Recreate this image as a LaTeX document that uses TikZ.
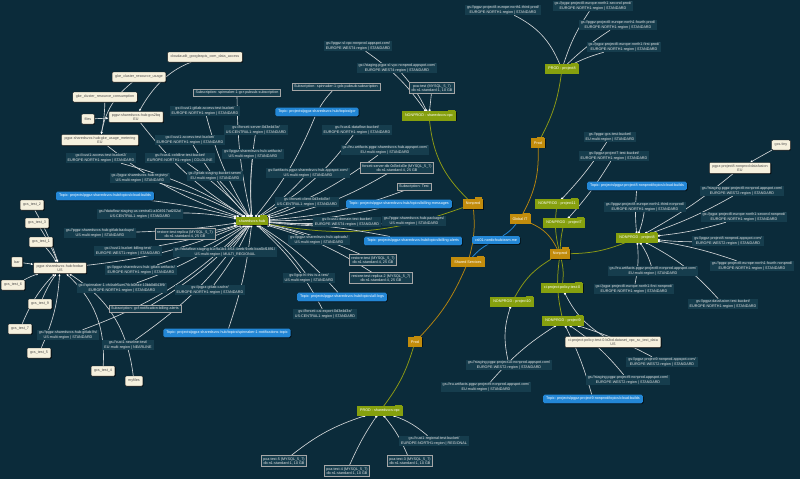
\documentclass[tikz,border=0pt]{standalone}
\usepackage{fontspec}
\setmainfont{Liberation Sans}
\usetikzlibrary{arrows.meta,shadows}
\definecolor{bgc}{HTML}{0B2B3A}
\definecolor{lblc}{HTML}{163D4D}
\definecolor{topicc}{HTML}{2387D6}
\definecolor{projc}{HTML}{86A00E}
\definecolor{foldc}{HTML}{C28C0C}
\definecolor{dsc}{HTML}{F6F1DE}
\definecolor{edgec}{HTML}{D0D4D6}
\definecolor{olivl}{HTML}{8E9C14}
\definecolor{goldl}{HTML}{B8860E}
\pgfdeclarelayer{bgl}
\pgfdeclarelayer{edges}
\pgfsetlayers{bgl,edges,main}
\newcommand\tinyf{\fontsize{3.7}{4.2}\selectfont}
\newcommand\enS{EUROPE-NORTH1-region | STANDARD}
\newcommand\usS{US-multi-region | STANDARD}
\newcommand\ucS{US-CENTRAL1-region | STANDARD}
\newcommand\ewS{EUROPE-WEST2-region | STANDARD}
\newcommand\mysql{(MYSQL\_5\_7)}
\tikzset{
  lbl/.style={fill=lblc,text=white!90!black,font=\tinyf,align=center,inner xsep=2pt,inner ysep=1.2pt},
  sqlbox/.style={lbl,draw=gray!70,line width=0.5pt,inner ysep=1.6pt},
  topic/.style={fill=topicc,text=white,font=\tinyf,rounded corners=1.5pt,inner xsep=3pt,inner ysep=2.6pt,
    drop shadow={shadow xshift=0.7pt,shadow yshift=-0.7pt,fill=black,opacity=0.7}},
  proj/.style={fill=projc,text=white,font=\tinyf,inner xsep=3pt,inner ysep=2.8pt,
    drop shadow={shadow xshift=0.6pt,shadow yshift=-0.6pt,fill=black,opacity=0.6}},
  fold/.style={fill=foldc,text=white,font=\tinyf,inner xsep=3pt,inner ysep=3.2pt,
    drop shadow={shadow xshift=0.6pt,shadow yshift=-0.6pt,fill=black,opacity=0.6}},
  ds/.style={fill=dsc,draw=black!85,text=black!70,font=\tinyf,align=center,rounded corners=1pt,
    inner xsep=3pt,inner ysep=2pt,minimum height=10pt,
    drop shadow={shadow xshift=0.7pt,shadow yshift=-0.7pt,fill=black,opacity=0.8}},
  edge/.style={draw=edgec,line width=0.65pt},
  hubedge/.style={edge,-{Square[length=1.8pt,width=1.8pt,color=white]}},
  tabl/.style={edge,-{Latex[length=2.4pt,width=2.2pt,color=white]}},
  oedge/.style={draw=olivl,line width=0.75pt},
  gedge/.style={draw=goldl,line width=0.75pt},
  bedge/.style={draw=topicc,line width=0.8pt},
}
\begin{document}
\begin{tikzpicture}[x=1pt,y=-1pt]
\begin{pgfonlayer}{bgl}
\fill[bgc] (0,0) rectangle (800,479);
\end{pgfonlayer}
\useasboundingbox (0,0) rectangle (800,479);

% ---------- folders and projects ----------
\node[proj] (hub) at (252,221) {sharedsvcs-hub};
\node[proj] (nvpc) at (429,116) {NONPROD - sharedsvcs-vpc};
\node[proj] (pp8) at (562,69) {PROD - project8};
\node[proj] (np11) at (557,204) {NONPROD - project11};
\node[proj] (np7) at (564,223) {NONPROD - project7};
\node[proj] (np8) at (637,238) {NONPROD - project8};
\node[proj] (cipol) at (562,288) {ci-project-policy-test-0};
\node[proj] (np10) at (512,302) {NONPROD - project10};
\node[proj] (np9) at (563,321) {NONPROD - project9};
\node[proj] (pvpc) at (380,411) {PROD - sharedsvcs-vpc};

\node[fold] (global) at (520,219) {Global IT};
\node[fold] (shared) at (468,262) {Shared Services};
\node[fold] (nprodL) at (473,204) {Nonprod};
\node[fold] (nprodR) at (560,254) {Nonprod};
\node[fold] (prodU) at (538,143) {Prod};
\node[fold] (prodL) at (415,342) {Prod};

\foreach \n in {hub,nvpc,pp8,np11,np7,np8,cipol,np10,np9,pvpc}
  \fill[projc] ([xshift=-1pt]\n.north east) rectangle ++(-7pt,1.6pt);
\foreach \n in {global,shared,nprodL,nprodR,prodU,prodL}
  \fill[foldc] ([xshift=-1pt]\n.north east) rectangle ++(-7pt,1.6pt);

\node[topic] (email) at (496,240) {csl01.nordicfoulsteam.me};

% ---------- datasets and tables ----------
\node[ds] (cloudaudit) at (205,57) {cloudaudit\_googleapis\_com\_data\_access};
\node[ds] (gkeusage) at (139,77) {gke\_cluster\_resource\_usage};
\node[ds] (gkecons) at (105,97) {gke\_cluster\_resource\_consumption};
\node[ds] (files) at (88,119) {files};
\node[ds] (gcstobq) at (136,117) {pgpz-sharedsvcs-hub:gcs2bq\\EU};
\node[ds] (gkemeter) at (100,140) {pgpz-sharedsvcs-hub:gke\_usage\_metering\\EU};
\node[ds] (foobar) at (60,268) {pgpz-sharedsvcs-hub:foobar\\US};
\node[ds] (bar) at (17,262) {bar};
\node[ds] (gt2) at (32,205) {gcs\_test\_2};
\node[ds] (gt3) at (37,223) {gcs\_test\_3};
\node[ds] (gt1) at (41,242) {gcs\_test\_1};
\node[ds] (gt6) at (13,285) {gcs\_test\_6};
\node[ds] (gt9) at (40,304) {gcs\_test\_9};
\node[ds] (gt7) at (20,329) {gcs\_test\_7};
\node[ds] (gt5) at (39,353) {gcs\_test\_5};
\node[ds] (gt4) at (103,371) {gcs\_test\_4};
\node[ds] (myfiles) at (134,381) {myfiles};
\node[ds] (dfusion) at (740,168) {pgpz-project8-nonprod:datafusion\\EU};
\node[ds] (gcstiny) at (781,145) {gcs.tiny};
\node[ds] (cids) at (613,342) {ci-project-policy-test-0-b0bd.dataset\_vpc\_sc\_test\_data\\US};

% ---------- topics ----------
\node[topic] (tgcr) at (317,112) {Topic: projects/pgpz-sharedsvcs-hub/topics/gcr};
\node[topic] (tcb) at (105,196) {Topic: projects/pgpz-sharedsvcs-hub/topics/cloud-builds};
\node[topic] (tbm) at (399,204) {Topic: projects/pgpz-sharedsvcs-hub/topics/billing-messages};
\node[topic] (tba) at (413,241) {Topic: projects/pgpz-sharedsvcs-hub/topics/billing-alerts};
\node[topic] (tal) at (342,297) {Topic: projects/pgpz-sharedsvcs-hub/topics/all-logs};
\node[topic] (tsn) at (227,333) {Topic: projects/pgpz-sharedsvcs-hub/topics/spinnaker-1-notifications-topic};
\node[topic] (tp8) at (637,186) {Topic: projects/pgpz-project8-nonprod/topics/cloud-builds};
\node[topic] (tp9) at (593,399) {Topic: projects/pgpz-project9-nonprod/topics/cloud-builds};

% ---------- subscriptions ----------
\node[sqlbox] (sgcr) at (237,93) {Subscription: spinnaker-1-gcr-pubsub-subscription};
\node[sqlbox] (sgcb) at (336,87) {Subscription: spinnaker-1-gcb-pubsub-subscription};
\node[sqlbox] (stest) at (414,187) {Subscription: Test};
\node[sqlbox] (sgcf) at (145,309) {Subscription: gcf-notification-billing-alerts};

% ---------- Cloud SQL instances ----------
\node[sqlbox] (pxa) at (432,88) {pxa-test \mysql\\db-n1-standard-1, 10 GB};
\node[sqlbox] (fsdb) at (397,168) {forseti-server-db-0d3e4d3e \mysql\\db-n1-standard-4, 25 GB};
\node[sqlbox] (rt) at (373,260) {restore-test \mysql\\db-n1-standard-4, 25 GB};
\node[sqlbox] (rtr2) at (381,278) {restore-test-replica-2 \mysql\\db-n1-standard-4, 25 GB};
\node[sqlbox] (rtr) at (185,234) {restore-test-replica \mysql\\db-n1-standard-4, 25 GB};
\node[sqlbox] (pxa5) at (284,461) {pxa-test-5 \mysql\\db-n1-standard-1, 10 GB};
\node[sqlbox] (pxa4) at (347,471) {pxa-test-4 \mysql\\db-n1-standard-1, 10 GB};
\node[sqlbox] (pxa3) at (410,461) {pxa-test-3 \mysql\\db-n1-standard-1, 10 GB};

% ---------- buckets of sharedsvcs-hub ----------
\node[lbl] (b1) at (205,111) {gs://cust1-gitlab-access-test-bucket/\\\enS};
\node[lbl] (b2) at (190,140) {gs://cust1-access-test-bucket/\\\enS};
\node[lbl] (b3) at (101,158) {gs://cust1-access-test-bucket2/\\\enS};
\node[lbl] (b4) at (180,158) {gs://cust1-coldline-test-bucket/\\EUROPE-NORTH1-region | COLDLINE};
\node[lbl] (b5) at (140,178) {gs://pgpz-sharedsvcs-hub-registry/\\\usS};
\node[lbl] (b6) at (256,130) {gs://forseti-server-0d3e4d3e/\\\ucS};
\node[lbl] (b7) at (253,154) {gs://pgpz-sharedsvcs-hub-artifacts/\\\usS};
\node[lbl] (b8) at (357,130) {gs://cust1-dataflow-bucket/\\\enS};
\node[lbl] (b9) at (385,150) {gs://eu.artifacts.pgpz-sharedsvcs-hub.appspot.com/\\EU-multi-region | STANDARD};
\node[lbl] (b12) at (308,173) {gs://artifacts.pgpz-sharedsvcs-hub.appspot.com/\\\usS};
\node[lbl] (b13) at (307,202) {gs://forseti-client-0d3e4d3e/\\\ucS};
\node[lbl] (b14) at (414,221) {gs://pgpz-sharedsvcs-hub-packages/\\\usS};
\node[lbl] (b15) at (347,222) {gs://cust1-domain-test-bucket/\\EUROPE-WEST4-region | STANDARD};
\node[lbl] (b16) at (319,240) {gs://pgpz-sharedsvcs-hub-uploads/\\\usS};
\node[lbl] (b17) at (309,278) {gs://gcp-hl-this-is-a-test/\\\usS};
\node[lbl] (b18) at (325,314) {gs://forseti-cai-export-0d3e4d3e/\\\ucS};
\node[lbl] (b19) at (68,335) {gs://pgpz-sharedsvcs-hub-gitlab-lfs/\\\usS};
\node[lbl] (b20) at (128,345) {gs://cust1-nearline-test/\\EU-multi-region | NEARLINE};
\node[lbl] (b21) at (210,290) {gs://pgpz-gitlab-cache/\\\enS};
\node[lbl] (b22) at (225,252) {gs://dataflow-staging-b1c9a1b4-4f64-4eeb-9ceb-bca6bf1891/\\US-multi-region | MULTI\_REGIONAL};
\node[lbl] (b23) at (122,288) {gs://spinnaker-1-vh4sdr5umi7tk-b0ffae-10bb0d043f9/\\\enS};
\node[lbl] (b24) at (141,270) {gs://pgpz-sharedsvcs-hub-gitlab-artifacts/\\\enS};
\node[lbl] (b25) at (128,251) {gs://cust1-bucket-billing-test/\\EUROPE-WEST1-region | STANDARD};
\node[lbl] (b26) at (100,233) {gs://pgpz-sharedsvcs-hub-gitlab-backups/\\\usS};
\node[lbl] (b27) at (140,214) {gs://dataflow-staging-us-central1-a404917ad202a/\\\ucS};
\node[lbl] (b28) at (215,176) {gs://gitlab-staging-bucket-sener/\\EU-multi-region | STANDARD};

% ---------- buckets of the vpc projects ----------
\node[lbl] (v1) at (358,46) {gs://pgpz-sl-vpc-nonprod.appspot.com/\\EUROPE-WEST4-region | STANDARD};
\node[lbl] (v2) at (397,68) {gs://staging.pgpz-sl-vpc-nonprod.appspot.com/\\EUROPE-WEST4-region | STANDARD};
\node[lbl] (v3) at (434,441) {gs://cust1-regional-test-bucket/\\EUROPE-NORTH1-region | REGIONAL};

% ---------- buckets of project8 (prod) ----------
\node[lbl] (p1) at (503,10) {gs://pgpz-project8-europe-north1-third-prod/\\\enS};
\node[lbl] (p2) at (593,6) {gs://pgpz-project8-europe-north1-second-prod/\\\enS};
\node[lbl] (p3) at (618,25) {gs://pgpz-project8-europe-north1-fourth-prod/\\\enS};
\node[lbl] (p4) at (624,47) {gs://pgpz-project8-europe-north1-first-prod/\\\enS};

% ---------- buckets of the nonprod projects ----------
\node[lbl] (g11) at (610,137) {gs://pgpz-gcs-test-bucket/\\EU-multi-region | STANDARD};
\node[lbl] (g7) at (614,156) {gs://pgpz-project7-test-bucket/\\\enS};
\node[lbl] (q1) at (645,207) {gs://pgpz-project8-europe-north1-third-nonprod/\\\enS};
\node[lbl] (q2) at (742,191) {gs://staging.pgpz-project8-nonprod.appspot.com/\\\ewS};
\node[lbl] (q3) at (744,217) {gs://pgpz-project8-europe-north1-second-nonprod/\\\enS};
\node[lbl] (q4) at (728,241) {gs://pgpz-project8-nonprod.appspot.com/\\\ewS};
\node[lbl] (q5) at (752,266) {gs://pgpz-project8-europe-north1-fourth-nonprod/\\\enS};
\node[lbl] (q6) at (653,271) {gs://eu.artifacts.pgpz-project8-nonprod.appspot.com/\\EU-multi-region | STANDARD};
\node[lbl] (q7) at (634,289) {gs://pgpz-project8-europe-north1-first-nonprod/\\\enS};
\node[lbl] (q8) at (723,304) {gs://pgpz-datafusion-test-bucket/\\\enS};
\node[lbl] (r1) at (662,362) {gs://pgpz-project9-nonprod.appspot.com/\\\ewS};
\node[lbl] (r2) at (628,380) {gs://staging.pgpz-project9-nonprod.appspot.com/\\\ewS};
\node[lbl] (r3) at (486,387) {gs://eu.artifacts.pgpz-project9-nonprod.appspot.com/\\EU-multi-region | STANDARD};
\node[lbl] (r4) at (509,365) {gs://staging.pgpz-project10-nonprod.appspot.com/\\\ewS};

% ---------- connectors ----------
\begin{pgfonlayer}{edges}
% folder tree
\draw[gedge] (global) to[bend right=15] (prodU);
\draw[gedge] (global) to[bend left=20] (nprodR);
\draw[bedge] (global) to[bend left=10] (email);
\draw[bedge] (email) to[bend right=10] (shared);
\draw[gedge] (shared) to[bend right=10] (nprodL);
\draw[gedge] (shared) to[bend left=10] (prodL);
\draw[oedge] (nprodL) to[bend left=15] (hub);
\draw[oedge] (nprodL) to[bend left=20] (nvpc);
\draw[oedge] (prodU) to[bend right=10] (pp8);
\draw[oedge] (prodL) to[bend left=10] (pvpc);
\foreach \t/\b in {np11/10,np7/5,np8/-10,cipol/10,np10/-15,np9/-10}
  \draw[oedge] (nprodR) to[bend left=\b] (\t);

% sharedsvcs-hub resources
\foreach \t/\b in {b1/-8,b2/-6,b3/8,b4/6,b5/6,b6/-6,b7/-5,b8/12,b9/8,b12/6,b13/4,b14/5,b15/3,b16/-3,
    b17/-8,b18/-10,b19/-12,b20/-10,b21/-6,b22/-4,b23/-8,b24/-6,b25/-4,b26/-3,b27/5,b28/4,
    tgcr/8,tcb/4,tbm/6,tba/-4,tal/-8,tsn/-6,sgcr/-6,stest/8,sgcf/-8,
    fsdb/10,rt/-6,rtr2/-8,rtr/-4,gcstobq/-10,gkemeter/-10,foobar/-8}
  \draw[hubedge] (\t) to[bend left=\b] (hub);
\draw[edge] (sgcb) to[bend right=6] (tgcr);

% tables into datasets
\draw[tabl] (cloudaudit) .. controls (165,72) and (150,92) .. (gcstobq);
\draw[tabl] (gkeusage) to[bend right=20] (gkemeter);
\draw[tabl] (gkecons) to[bend left=5] (gkemeter);
\draw[tabl] (files) -- (gcstobq);
\foreach \t/\b in {gt2/5,gt3/5,gt1/5,bar/0,gt6/5,gt9/5,gt7/10,gt5/-10,gt4/-25,myfiles/-25}
  \draw[tabl] (\t) to[bend left=\b] (foobar);
\draw[tabl] (gcstiny) -- (dfusion);

% vpc projects
\foreach \t/\b in {v1/10,v2/8,pxa/0}
  \draw[hubedge] (\t) to[bend left=\b] (nvpc);
\foreach \t/\b in {pxa5/10,pxa4/5,pxa3/-8,v3/-10}
  \draw[hubedge] (\t) to[bend left=\b] (pvpc);

% project8 prod
\foreach \t/\b in {p1/20,p2/-8,p3/-5,p4/-5}
  \draw[edge] (\t) to[bend left=\b] (pp8);

% nonprod projects
\draw[hubedge] (g11) to[bend left=5] (np11);
\draw[hubedge] (g7) to[bend left=5] (np7);
\foreach \t/\b in {tp8/-5,q1/5,q2/5,q3/5,q4/3,q5/-5,q6/-8,q7/-8,q8/-10,dfusion/5}
  \draw[hubedge] (\t) to[bend left=\b] (np8);
\draw[hubedge] (cids) to[bend left=15] (cipol);
\draw[hubedge] (r4) to[bend left=15] (np10);
\foreach \t/\b in {r1/-5,r2/-8,r3/8,tp9/-5}
  \draw[hubedge] (\t) to[bend left=\b] (np9);
\end{pgfonlayer}
\end{tikzpicture}
\end{document}
